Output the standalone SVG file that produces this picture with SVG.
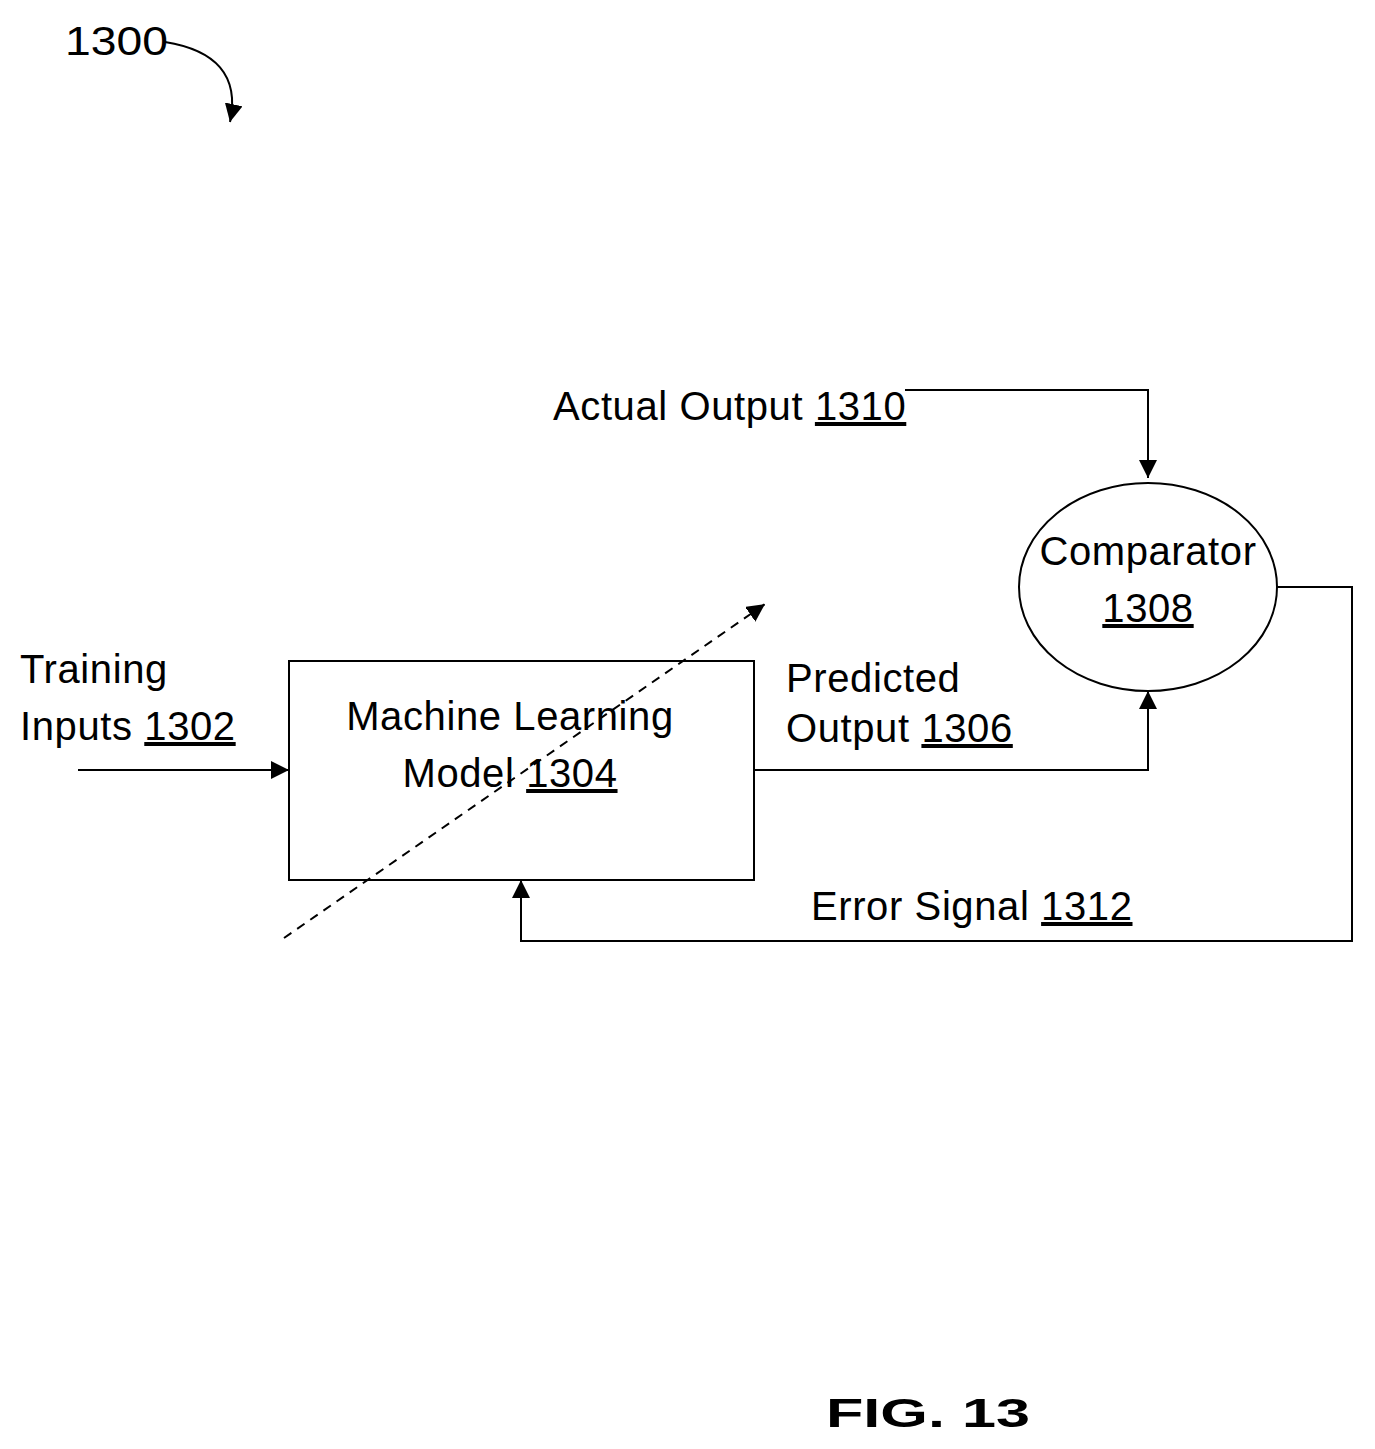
<svg xmlns="http://www.w3.org/2000/svg" width="1375" height="1449" viewBox="0 0 1375 1449">
<style>
text{font-family:"Liberation Sans",Arial,sans-serif;font-size:40px;fill:#000;letter-spacing:0.6px}
.ln{fill:none;stroke:#000;stroke-width:2}
</style>
<defs>
<marker id="b" viewBox="0 0 10 10" refX="10" refY="5" markerWidth="18" markerHeight="18" markerUnits="userSpaceOnUse" orient="auto"><path d="M0,0L10,5L0,10z" fill="#000"/></marker>
</defs>
<rect width="1375" height="1449" fill="#fff"/>
<text x="65" y="55" font-size="44" textLength="103" lengthAdjust="spacingAndGlyphs" style="letter-spacing:0">1300</text>
<g id="connectors">
<path class="ln" d="M165,42 C215,50 240,75 230,122" marker-end="url(#b)"/>
<path class="ln" d="M905,390 H1148 V478" marker-end="url(#b)"/>
<path class="ln" d="M78,770 H289" marker-end="url(#b)"/>
<path class="ln" d="M754,770 H1148 V691" marker-end="url(#b)"/>
<path class="ln" d="M1277,587 H1352 V941 H521 V880" marker-end="url(#b)"/>
<path class="ln" d="M284,938 L765,604" stroke-dasharray="9,7" marker-end="url(#b)"/>
</g>
<g id="model"><rect x="289" y="661" width="465" height="219" class="ln"/>
<text x="510" y="730" text-anchor="middle">Machine Learning</text>
<text x="510" y="787" text-anchor="middle">Model <tspan text-decoration="underline">1304</tspan></text></g>
<g id="comparator"><ellipse cx="1148" cy="587" rx="129" ry="104" class="ln"/>
<text x="1148" y="565" text-anchor="middle">Comparator</text>
<text x="1148" y="622" text-anchor="middle" text-decoration="underline">1308</text></g>
<g id="labels">
<text x="553" y="420">Actual Output <tspan text-decoration="underline">1310</tspan></text>
<text x="20" y="683">Training</text>
<text x="20" y="740">Inputs <tspan text-decoration="underline">1302</tspan></text>
<text x="786" y="692">Predicted</text>
<text x="786" y="742">Output <tspan text-decoration="underline">1306</tspan></text>
<text x="811" y="920">Error Signal <tspan text-decoration="underline">1312</tspan></text>
<text x="826" y="1427" font-size="62" font-weight="bold" textLength="204" lengthAdjust="spacingAndGlyphs" style="letter-spacing:0">FIG. 13</text>
</g>
</svg>
